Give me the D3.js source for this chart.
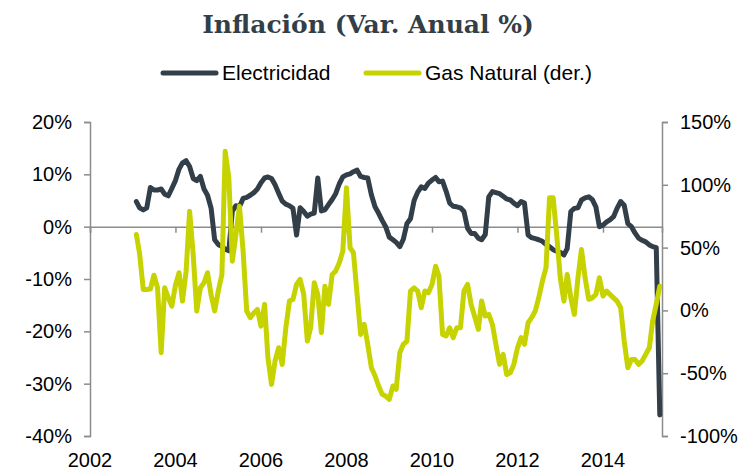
<!DOCTYPE html>
<html>
<head>
<meta charset="UTF-8">
<title>Inflación (Var. Anual %)</title>
<script src="https://cdn.jsdelivr.net/npm/d3@7/dist/d3.min.js"></script>
<style>
  body { margin: 0; background: #fff; }
  svg text { font-family: "Liberation Sans", Arial, sans-serif; }
</style>
</head>
<body>
<svg id="chart" width="743" height="471"></svg>
<script>
// monthly series, first value = Feb 2003
var startYear = 2003, startMonth = 1;
var electricidad = [
  4.8, 3.6, 3.2, 3.6, 7.5, 7.0, 7.0, 7.2, 6.2, 5.9, 7.3, 8.8,
  11.0, 12.2, 12.6, 11.5, 9.2, 8.8, 9.6, 7.2, 6.0, 3.5, -2.5, -3.4,
  -3.8, -4.3, -4.6, 3.0, 4.0, 3.8, 5.4, 5.6, 6.0, 6.5, 7.2, 8.4,
  9.3, 9.5, 9.2, 8.0, 6.4, 4.9, 4.3, 4.0, 3.5, -1.6, 3.6, 2.9,
  2.0, 2.4, 2.6, 9.3, 3.0, 3.2, 4.2, 5.2, 6.3, 8.2, 9.5, 9.9,
  10.1, 10.5, 10.8, 9.6, 9.4, 9.3, 6.1, 3.8, 2.6, 1.2, 0.0, -2.0,
  -2.5, -3.0, -3.8, -2.4, 0.6, 1.5, 5.0, 6.6, 7.6, 7.3, 8.3, 8.9,
  9.4, 8.6, 8.7, 6.8, 4.5, 3.9, 3.8, 3.6, 2.9, -0.3, -1.3, -1.3,
  -2.2, -2.5, -1.5, 5.7, 6.7, 6.5, 6.3, 5.8, 5.3, 5.1, 4.5, 4.0,
  4.8, 4.5, -1.6, -2.1, -2.3, -2.5, -2.8, -3.4, -3.8, -4.4, -4.7, -4.9,
  -5.4, -4.2, 2.9, 3.5, 3.6, 5.1, 5.5, 5.7, 5.2, 3.8, 0.0, 0.3,
  0.9, 1.3, 1.9, 3.5, 4.8, 4.1, 0.6, 0.0, -1.2, -2.2, -2.6, -2.9,
  -3.5, -3.8, -4.0, -36.0
];
var gasNatural = [
  60.5, 45, 16.7, 16.7, 17, 28, 18, -33.7, 18, 10, 3.4, 20,
  30, 7.4, 31, 79, 44, -0.5, 18, 22, 30, 12, -0.5, 15.4,
  28.6, 126.7, 105.6, 39.2, 60.5, 83, 47.2, -0.5, -5.8, -2, 0.8, -12.5,
  4.8, -37.6, -58.9, -40.3, -29.7, -43, -13.8, 7.4, 8.8, 20.7, 24.7, 12.7,
  -24.4, -13.8, 22, 12.7, -17.7, 19.3, 4.8, 28.6, 31.3, 37.9, 47.2, 97.6,
  49.9, 45.9, 12.7, -19.1, -11.1, -27, -45.6, -52, -60, -66.8, -68.2, -70.8,
  -60.2, -62.8, -33.7, -27, -24.4, 15.4, 18, 15.4, 2.1, 15.4, 14, 20.7,
  35.2, 27.3, -19.1, -20.4, -13.8, -21.7, -13.8, -13.8, 15.4, 20.7, 4.8, -5,
  -15.1, 7.4, -4.5, -3.2, -11.1, -27, -43, -35, -51, -49.6, -43, -30,
  -21.7, -27, -9.8, -5.8, -0.5, 10.1, 23.3, 34, 89.7, 89.7, 60.5, 26,
  7.4, 28.6, 10.1, -3.2, 26, 48.5, 26, 8.8, 10, 12.7, 26, 11.4,
  15.4, 12.7, 10, 7.4, 2.1, -24.4, -45.6, -39, -39, -43, -40.3, -35,
  -29.7, -8.5, 5, 19.3
];
var leftTicks = [20, 10, 0, -10, -20, -30, -40];
var rightTicks = [150, 100, 50, 0, -50, -100];
var yearTicks = [2002, 2004, 2006, 2008, 2010, 2012, 2014];

var svg = d3.select("#chart");
var darkColor = "#333f48";
var greenColor = "#c6d300";
var axisColor = "#8c8c8c";
var margin = { top: 122, right: 81, bottom: 35, left: 90 };
var width = 743, height = 471;

var x = d3.scaleTime()
  .domain([new Date(2002, 0, 1), new Date(2015, 4, 20)])
  .range([margin.left, width - margin.right]);
var yLeft = d3.scaleLinear().domain([-40, 20]).range([height - margin.bottom, margin.top]);
var yRight = d3.scaleLinear().domain([-100, 150]).range([height - margin.bottom, margin.top]);

function monthDate(i) { return new Date(startYear, startMonth + i, 1); }

// title
svg.append("text")
  .attr("x", 368).attr("y", 33)
  .attr("text-anchor", "middle")
  .style("font-family", "'DejaVu Serif', Georgia, serif")
  .style("font-weight", "bold")
  .style("font-size", "25px")
  .style("fill", darkColor)
  .text("Inflación (Var. Anual %)");

// legend
var legend = [
  { name: "Electricidad", color: darkColor, x: 163 },
  { name: "Gas Natural (der.)", color: greenColor, x: 366 }
];
legend.forEach(function(d) {
  svg.append("line")
    .attr("x1", d.x).attr("x2", d.x + 53)
    .attr("y1", 73).attr("y2", 73)
    .style("stroke", d.color).style("stroke-width", 5)
    .style("stroke-linecap", "round");
  svg.append("text")
    .attr("x", d.x + 59).attr("y", 80)
    .style("font-size", "21px").style("fill", "#000")
    .text(d.name);
});

// left axis
var leftAxis = d3.axisLeft(yLeft).tickValues(leftTicks).tickSize(6).tickPadding(12)
  .tickFormat(function(d) { return d + "%"; });
var gl = svg.append("g").attr("transform", "translate(" + margin.left + ",0)").call(leftAxis);
// right axis
var rightAxis = d3.axisRight(yRight).tickValues(rightTicks).tickSize(6).tickPadding(12)
  .tickFormat(function(d) { return d + "%"; });
var gr = svg.append("g").attr("transform", "translate(" + (width - margin.right) + ",0)").call(rightAxis);

[gl, gr].forEach(function(g) {
  g.select(".domain").attr("stroke", axisColor).attr("stroke-width", 1.5);
  g.selectAll(".tick line").attr("stroke", axisColor).attr("stroke-width", 1.5);
  g.selectAll(".tick text").style("font-size", "20px").style("fill", "#000")
    .style("font-family", "'Liberation Sans', Arial, sans-serif");
});

// x axis on the zero line, labels at the bottom
var zeroY = yLeft(0);
var bottomAxis = d3.axisBottom(x)
  .tickValues(yearTicks.map(function(y) { return new Date(y, 0, 1); }))
  .tickSize(6).tickFormat("");
var gx = svg.append("g").attr("transform", "translate(0," + zeroY + ")").call(bottomAxis);
gx.select(".domain").attr("stroke", axisColor).attr("stroke-width", 1.5);
gx.selectAll(".tick line").attr("stroke", axisColor).attr("stroke-width", 1.5);

yearTicks.forEach(function(y) {
  svg.append("text")
    .attr("x", x(new Date(y, 0, 1))).attr("y", 467)
    .attr("text-anchor", "middle")
    .style("font-size", "20px").style("fill", "#000")
    .text(y);
});

// lines
var lineLeft = d3.line()
  .x(function(d, i) { return x(monthDate(i)); })
  .y(function(d) { return yLeft(d); });
var lineRight = d3.line()
  .x(function(d, i) { return x(monthDate(i)); })
  .y(function(d) { return yRight(d); });

svg.append("path").datum(electricidad)
  .attr("d", lineLeft)
  .style("fill", "none").style("stroke", darkColor).style("stroke-width", 5)
  .style("stroke-linejoin", "round").style("stroke-linecap", "round");
svg.append("path").datum(gasNatural)
  .attr("d", lineRight)
  .style("fill", "none").style("stroke", greenColor).style("stroke-width", 5)
  .style("stroke-linejoin", "round").style("stroke-linecap", "round");
</script>
</body>
</html>
